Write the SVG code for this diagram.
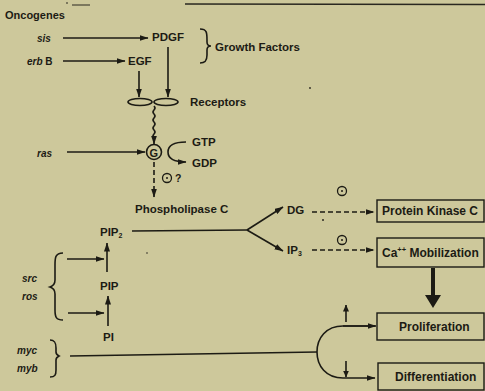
<svg xmlns="http://www.w3.org/2000/svg" width="485" height="391" viewBox="0 0 485 391">
<defs>
<marker id="ah" markerWidth="9" markerHeight="6" refX="8.5" refY="3" orient="auto" markerUnits="userSpaceOnUse"><path d="M0,0 L9,3 L0,6 z" fill="#1c1b14"/></marker>
<marker id="ahs" markerWidth="7" markerHeight="6" refX="6.5" refY="3" orient="auto" markerUnits="userSpaceOnUse"><path d="M0,0 L7,3 L0,6 z" fill="#1c1b14"/></marker>
</defs>
<style>
text{font-family:"Liberation Sans",Arial,sans-serif;font-weight:bold;fill:#1c1b14;font-size:11.5px}
.gene{font-style:italic;font-size:10px}
.box{font-size:12px}
.ln{stroke:#1c1b14;stroke-width:1.6;fill:none}
.dash{stroke:#1c1b14;stroke-width:1.6;fill:none;stroke-dasharray:5,3}
.rect{stroke:#1c1b14;stroke-width:1.4;fill:none}
.plus{stroke:#1c1b14;stroke-width:1.3;fill:none}
</style>
<rect width="485" height="391" fill="#cdc89b"/>
<g id="scan-marks" stroke="#2a2820" stroke-width="1.4">
<line x1="185" y1="4" x2="485" y2="4.5"/>
<line x1="72" y1="5" x2="90" y2="5" stroke-width="1"/>
<line x1="66" y1="3" x2="68" y2="3" stroke-width="1"/>
<circle cx="310" cy="88" r="0.9" fill="#2a2820" stroke="none"/>
<circle cx="323" cy="220" r="1" fill="#2a2820" stroke="none"/>
<circle cx="147" cy="253" r="0.8" fill="#2a2820" stroke="none"/>
</g>
<g id="oncogenes-title"><text x="5" y="19" style="font-size:11px">Oncogenes</text></g>
<g id="sis"><text class="gene" x="37" y="42">sis</text></g>
<g id="erbB"><text class="gene" x="27" y="65">erb <tspan style="font-style:normal">B</tspan></text></g>
<g id="pdgf"><text x="152" y="41">PDGF</text></g>
<g id="egf"><text x="128" y="65">EGF</text></g>
<g id="growth-factors"><path class="ln" d="M200,29 C207,29 207,33 207,40 L207,42 C207,45 209,46 211,46 C209,46 207,47 207,50 L207,55 C207,61 205,63 200,63"/><text x="215" y="51">Growth Factors</text></g>
<g id="receptors"><ellipse class="ln" cx="140" cy="102" rx="12" ry="3.5"/><ellipse class="ln" cx="166" cy="102" rx="12" ry="3.5"/><text x="190" y="106">Receptors</text></g>
<g id="ras"><text class="gene" x="37" y="157">ras</text></g>
<g id="gprotein"><circle class="ln" cx="154" cy="152" r="7.5"/><text x="149.5" y="156.5" style="font-size:11px">G</text></g>
<g id="gtp"><text x="192" y="146">GTP</text></g>
<g id="gdp"><text x="192" y="167">GDP</text></g>
<g id="plus1"><circle class="plus" cx="167" cy="178" r="4.5"/><circle cx="167" cy="178" r="1" fill="#1c1b14"/><text x="175" y="182" style="font-size:10.5px">?</text></g>
<g id="phospholipase"><text x="135" y="213">Phospholipase C</text></g>
<g id="pip2"><text x="100" y="236">PIP<tspan style="font-size:7px" dy="2">2</tspan></text></g>
<g id="pip"><text x="100" y="290">PIP</text></g>
<g id="pi"><text x="103" y="341">PI</text></g>
<g id="src-ros"><text class="gene" x="22" y="282">src</text><text class="gene" x="22" y="300">ros</text><path class="ln" d="M63,253 C55,253 55,258 55,265 L55,280 C55,284 53,286 50,287 C53,288 55,290 55,294 L55,310 C55,317 56,320 63,320"/></g>
<g id="myc-myb"><text class="gene" x="17" y="354">myc</text><text class="gene" x="17" y="372">myb</text><path class="ln" d="M50,340 C55,340 56,343 56,348 L56,352 C56,354 57,355 59,356 C57,357 56,358 56,360 L56,370 C56,375 55,377 50,377"/></g>
<g id="dg"><text x="287" y="214">DG</text></g>
<g id="ip3"><text x="287" y="254">IP<tspan style="font-size:7px" dy="2">3</tspan></text></g>
<g id="plus2"><circle class="plus" cx="342" cy="191" r="4.5"/><circle cx="342" cy="191" r="1" fill="#1c1b14"/></g>
<g id="plus3"><circle class="plus" cx="342" cy="240" r="4.5"/><circle cx="342" cy="240" r="1" fill="#1c1b14"/></g>
<g id="pkc"><rect class="rect" x="377" y="200" width="107" height="22"/><text class="box" x="382" y="215">Protein Kinase C</text></g>
<g id="ca"><rect class="rect" x="377" y="238" width="107" height="29"/><text class="box" x="382" y="257">Ca<tspan style="font-size:7.5px" dy="-5">++</tspan><tspan dy="5"> Mobilization</tspan></text></g>
<g id="proliferation"><rect class="rect" x="377" y="313" width="107" height="27"/><text class="box" x="399" y="331">Proliferation</text></g>
<g id="differentiation"><rect class="rect" x="378" y="363" width="106" height="27"/><text class="box" x="395" y="381">Differentiation</text></g>
<g id="connectors">
<line class="ln" x1="63" y1="38" x2="148" y2="38" marker-end="url(#ah)"/>
<line class="ln" x1="63" y1="61" x2="125" y2="61" marker-end="url(#ah)"/>
<line class="ln" x1="139" y1="71" x2="139" y2="97" marker-end="url(#ah)"/>
<line class="ln" x1="168" y1="47" x2="168" y2="97" marker-end="url(#ah)"/>
<path class="ln" d="M154,106 q2,2 0,4 t0,4 t0,4 t0,4 t0,4 t0,4 t0,4 t0,4 L154,144" marker-end="url(#ah)"/>
<line class="ln" x1="67" y1="152" x2="145" y2="152" marker-end="url(#ah)"/>
<path class="ln" d="M186,142 C174,142 168,146 168,152 C168,158 173,162 186,162" marker-end="url(#ah)"/>
<line class="dash" x1="154" y1="162" x2="154" y2="197" marker-end="url(#ah)"/>
<path class="ln" d="M132,231 L247,230"/>
<line class="ln" x1="247" y1="230" x2="283" y2="207" marker-end="url(#ah)"/>
<line class="ln" x1="247" y1="230" x2="283" y2="251" marker-end="url(#ah)"/>
<line class="dash" x1="312" y1="212" x2="374" y2="212" marker-end="url(#ah)"/>
<line class="dash" x1="312" y1="250" x2="374" y2="250" marker-end="url(#ah)"/>
<line class="ln" x1="67" y1="259" x2="104" y2="259" marker-end="url(#ah)"/>
<line class="ln" x1="68" y1="313" x2="104" y2="313" marker-end="url(#ah)"/>
<line class="ln" x1="107" y1="272" x2="107" y2="243" marker-end="url(#ah)"/>
<line class="ln" x1="108" y1="326" x2="108" y2="296" marker-end="url(#ah)"/>
<line class="ln" x1="70" y1="356" x2="317" y2="352"/>
<path class="ln" d="M375,326 L343,326 C326,326 317,338 317,352 C317,366 326,378 343,378 L375,378" marker-end="url(#ah)"/>
<line class="ln" x1="343" y1="326" x2="376" y2="326" marker-end="url(#ah)"/>
<line class="ln" x1="346" y1="322" x2="346" y2="305" marker-end="url(#ahs)"/>
<line class="ln" x1="346" y1="361" x2="346" y2="377" marker-end="url(#ahs)"/>
<path d="M431,268 L435,268 L435,295 L441,295 L433,308 L425,295 L431,295 z" fill="#1c1b14"/>
</g>
</svg>
